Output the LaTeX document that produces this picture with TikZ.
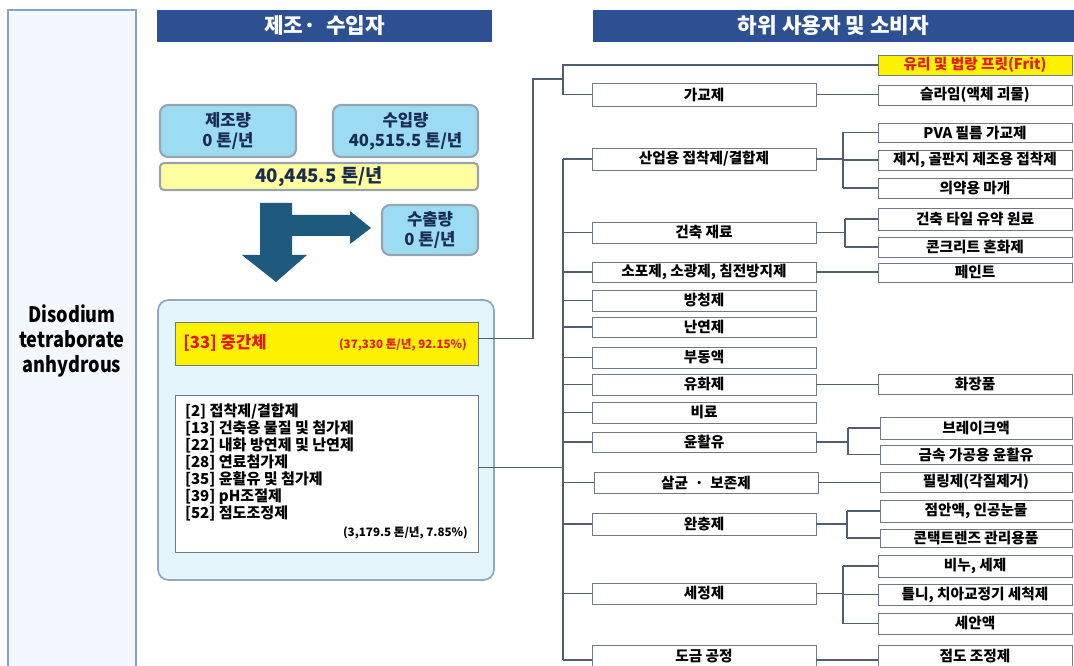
\documentclass[tikz,border=0pt]{standalone}
\usepackage{fontspec}
\setmainfont{Noto Sans CJK KR}
\newfontfamily\kr{Noto Sans CJK KR}
\newfontfamily\cond[FakeStretch=0.85]{Noto Sans CJK KR}
\definecolor{hdrblue}{RGB}{44,80,145}
\definecolor{arrowblue}{RGB}{30,90,125}
\definecolor{cyanfill}{RGB}{155,220,242}
\definecolor{cyanline}{RGB}{150,165,175}
\definecolor{navytext}{RGB}{25,45,80}
\definecolor{lightyellow}{RGB}{255,255,160}
\definecolor{contfill}{RGB}{228,246,252}
\definecolor{contline}{RGB}{140,170,190}
\definecolor{leftfill}{RGB}{242,248,253}
\definecolor{leftline}{RGB}{130,165,200}
\definecolor{boxline}{RGB}{110,122,135}
\definecolor{connline}{RGB}{80,95,110}
\definecolor{redtext}{RGB}{225,25,25}
\tikzset{
  px/.style 2 args={minimum width=#1*0.75pt, minimum height=#2*0.75pt},
  base/.style={inner sep=0pt, outer sep=0pt, anchor=north west},
  ubox/.style={base, draw=boxline, fill=white, line width=0.6pt,
    font=\kr\bfseries\fontsize{11}{12}\selectfont},
  mid/.style={ubox, px={224}{#1}},
  rgt/.style={ubox, px={194}{#1}},
  rgs/.style={ubox, px={192}{#1}},
  hdr/.style={base, fill=hdrblue, text=white, font=\kr\bfseries\fontsize{16}{18}\selectfont},
  cbox/.style={base, fill=cyanfill, draw=cyanline, line width=1.6pt, rounded corners=6pt,
    text=navytext, align=center, font=\kr\bfseries\fontsize{12.5}{15}\selectfont},
  conn/.style={draw=connline, line width=0.8pt},
}
\begin{document}
\begin{tikzpicture}[x=0.75pt, y=-0.75pt]
\useasboundingbox (0,0) rectangle (1074,666);

% left panel
\node[base, draw=leftline, fill=leftfill, line width=0.8pt, px={128}{662}, align=center,
  font=\cond\bfseries\fontsize{16}{19}\selectfont] (left) at (8,10)
  {Disodium\\tetraborate\\anhydrous};

% headers
\node[hdr, px={335}{32}] (hdr1) at (157,10) {제조·~~수입자};
\node[hdr, px={481}{32}] (hdr2) at (593,10) {하위 사용자 및 소비자};

% quantity boxes
\node[cbox, px={136}{52}] (prod) at (160,105) {제조량\\0 톤/년};
\node[cbox, px={145}{52}] (imp) at (333,105) {수입량\\40,515.5 톤/년};
\node[cbox, fill=lightyellow, rounded corners=3pt, px={318}{27}, font=\kr\bfseries\fontsize{14}{16}\selectfont] (total) at (160,163) {40,445.5 톤/년};
\node[cbox, px={96}{50}] (exp) at (382,205) {수출량\\0 톤/년};

% big arrow
\fill[arrowblue] (260,203) -- (292,203) -- (292,215) -- (350,215) -- (350,211) -- (371,228)
  -- (350,244) -- (350,236) -- (292,236) -- (292,255) -- (307,255) -- (276,282)
  -- (242,255) -- (260,255) -- cycle;

% container
\node[base, draw=contline, fill=contfill, line width=1.3pt, rounded corners=8pt, px={336}{280}] (cont) at (158,300) {};
\node[base, draw=boxline, fill=yellow, line width=0.6pt, px={303}{43}] (y33) at (175,322) {};
\node[anchor=west, inner sep=0pt, text=redtext, font=\kr\bfseries\fontsize{12.5}{14}\selectfont] (t33) at (183,343) {[33] 중간체};
\node[anchor=east, inner sep=0pt, text=redtext, font=\kr\bfseries\fontsize{8.7}{10}\selectfont] (p33) at (467,345) {(37,330 톤/년, 92.15\%)};
\node[base, draw=boxline, fill=white, line width=0.6pt, px={303}{157}] (white) at (175,395) {};
\node[base, align=left, font=\kr\bfseries\fontsize{11.3}{12.75}\selectfont] (list) at (185,404)
  {[2] 접착제/결합제\\{}[13] 건축용 물질 및 첨가제\\{}[22] 내화 방연제 및 난연제\\{}[28] 연료첨가제\\{}[35] 윤활유 및 첨가제\\{}[39] pH조절제\\{}[52] 점도조정제};
\node[anchor=east, inner sep=0pt, font=\kr\bfseries\fontsize{8.7}{10}\selectfont] (p2) at (468,533) {(3,179.5 톤/년, 7.85\%)};

% middle column
\node[mid=23] (gagyo) at (592,83) {가교제};
\node[mid=22] (sanup) at (592,148) {산업용 접착제/결합제};
\node[mid=21] (geon) at (592,222) {건축 재료};
\node[mid=20] (sopo) at (592,262) {소포제, 소광제, 침전방지제};
\node[mid=21] (bang) at (592,290) {방청제};
\node[mid=20] (nan) at (592,317) {난연제};
\node[mid=21] (budong) at (592,347) {부동액};
\node[mid=21] (yuhwa) at (592,374) {유화제};
\node[mid=21] (biryo) at (592,402) {비료};
\node[mid=20] (yunhwal) at (592,432) {윤활유};
\node[mid=21] (salgyun) at (594,472) {살균 ~·~ 보존제};
\node[mid=22] (wan) at (592,513) {완충제};
\node[mid=21] (sejeong) at (592,583) {세정제};
\node[mid=22] (dogeum) at (592,645) {도금 공정};

% right column
\node[rgt=20, fill=yellow, text=redtext] (frit) at (878,55) {유리 및 법랑 프릿(Frit)};
\node[rgt=20] (slime) at (878,85) {슬라임(액체 괴물)};
\node[rgt=19] (pva) at (878,123) {PVA 필름 가교제};
\node[rgt=20] (jeji) at (878,150) {제지, 골판지 제조용 접착제};
\node[rgt=20] (uiyak) at (878,178) {의약용 마개};
\node[rgt=22] (tile) at (878,208) {건축 타일 유약 원료};
\node[rgt=20] (concrete) at (878,237) {콘크리트 혼화제};
\node[rgt=19] (paint) at (878,263) {페인트};
\node[rgt=20] (cosm) at (878,374) {화장품};
\node[rgs=22] (brake) at (880,417) {브레이크액};
\node[rgs=19] (metal) at (880,445) {금속 가공용 윤활유};
\node[rgs=20] (peel) at (880,472) {필링제(각질제거)};
\node[rgs=22] (eye) at (880,500) {점안액, 인공눈물};
\node[rgs=18] (contact) at (880,529) {콘택트렌즈 관리용품};
\node[rgt=22] (soap) at (878,555) {비누, 세제};
\node[rgt=21] (denture) at (878,584) {틀니, 치아교정기 세척제};
\node[rgt=21] (wash) at (878,613) {세안액};
\node[rgt=22] (visc) at (878,645) {점도 조정제};

% connectors
\coordinate (u1) at (533,79);
\coordinate (u2) at (563,79);
\coordinate (tr) at (563,0);
\coordinate (j1) at (843,0);
\coordinate (j2) at (845,0);
\coordinate (j3) at (848,0);
\coordinate (j4) at (847,0);
\coordinate (j5) at (843,0);

\draw[conn] ([yshift=4pt]y33.east) -| (u1) -- (u2);
\draw[conn] (u2) |- (frit.west);
\draw[conn] (u2) |- (gagyo.west);
\draw[conn] (gagyo.east) -- (gagyo.east -| slime.west);

\draw[conn] ([yshift=4.5pt]white.east) -- ([yshift=4.5pt]white.east -| tr);
\draw[conn] (sanup.west -| tr) -- ([yshift=-3pt]dogeum.west -| tr);
\foreach \n in {sanup,geon,sopo,bang,nan,budong,yuhwa,biryo,yunhwal,salgyun,wan,sejeong}
  \draw[conn] (\n.west -| tr) -- (\n.west);
\draw[conn] ([yshift=-3pt]dogeum.west -| tr) -- ([yshift=-3pt]dogeum.west);

\draw[conn] (sanup.east) -- (sanup.east -| j1);
\draw[conn] (pva.west -| j1) -- (uiyak.west -| j1);
\foreach \n in {pva,jeji,uiyak} \draw[conn] (\n.west -| j1) -- (\n.west);

\draw[conn] (geon.east) -- (geon.east -| j2);
\draw[conn] (tile.west -| j2) -- (concrete.west -| j2);
\foreach \n in {tile,concrete} \draw[conn] (\n.west -| j2) -- (\n.west);

\draw[conn] (sopo.east) -- (sopo.east -| paint.west);
\draw[conn] (yuhwa.east) -- (yuhwa.east -| cosm.west);

\draw[conn] (yunhwal.east) -- (yunhwal.east -| j3);
\draw[conn] (brake.west -| j3) -- (metal.west -| j3);
\foreach \n in {brake,metal} \draw[conn] (\n.west -| j3) -- (\n.west);

\draw[conn] (salgyun.east) -- (salgyun.east -| peel.west);

\draw[conn] (wan.east) -- (wan.east -| j4);
\draw[conn] (eye.west -| j4) -- (contact.west -| j4);
\foreach \n in {eye,contact} \draw[conn] (\n.west -| j4) -- (\n.west);

\draw[conn] (sejeong.east) -- (sejeong.east -| j5);
\draw[conn] (soap.west -| j5) -- (wash.west -| j5);
\foreach \n in {soap,denture,wash} \draw[conn] (\n.west -| j5) -- (\n.west);

\draw[conn] ([yshift=-3pt]dogeum.east) -- ([yshift=-3pt]dogeum.east -| visc.west);
\end{tikzpicture}
\end{document}
